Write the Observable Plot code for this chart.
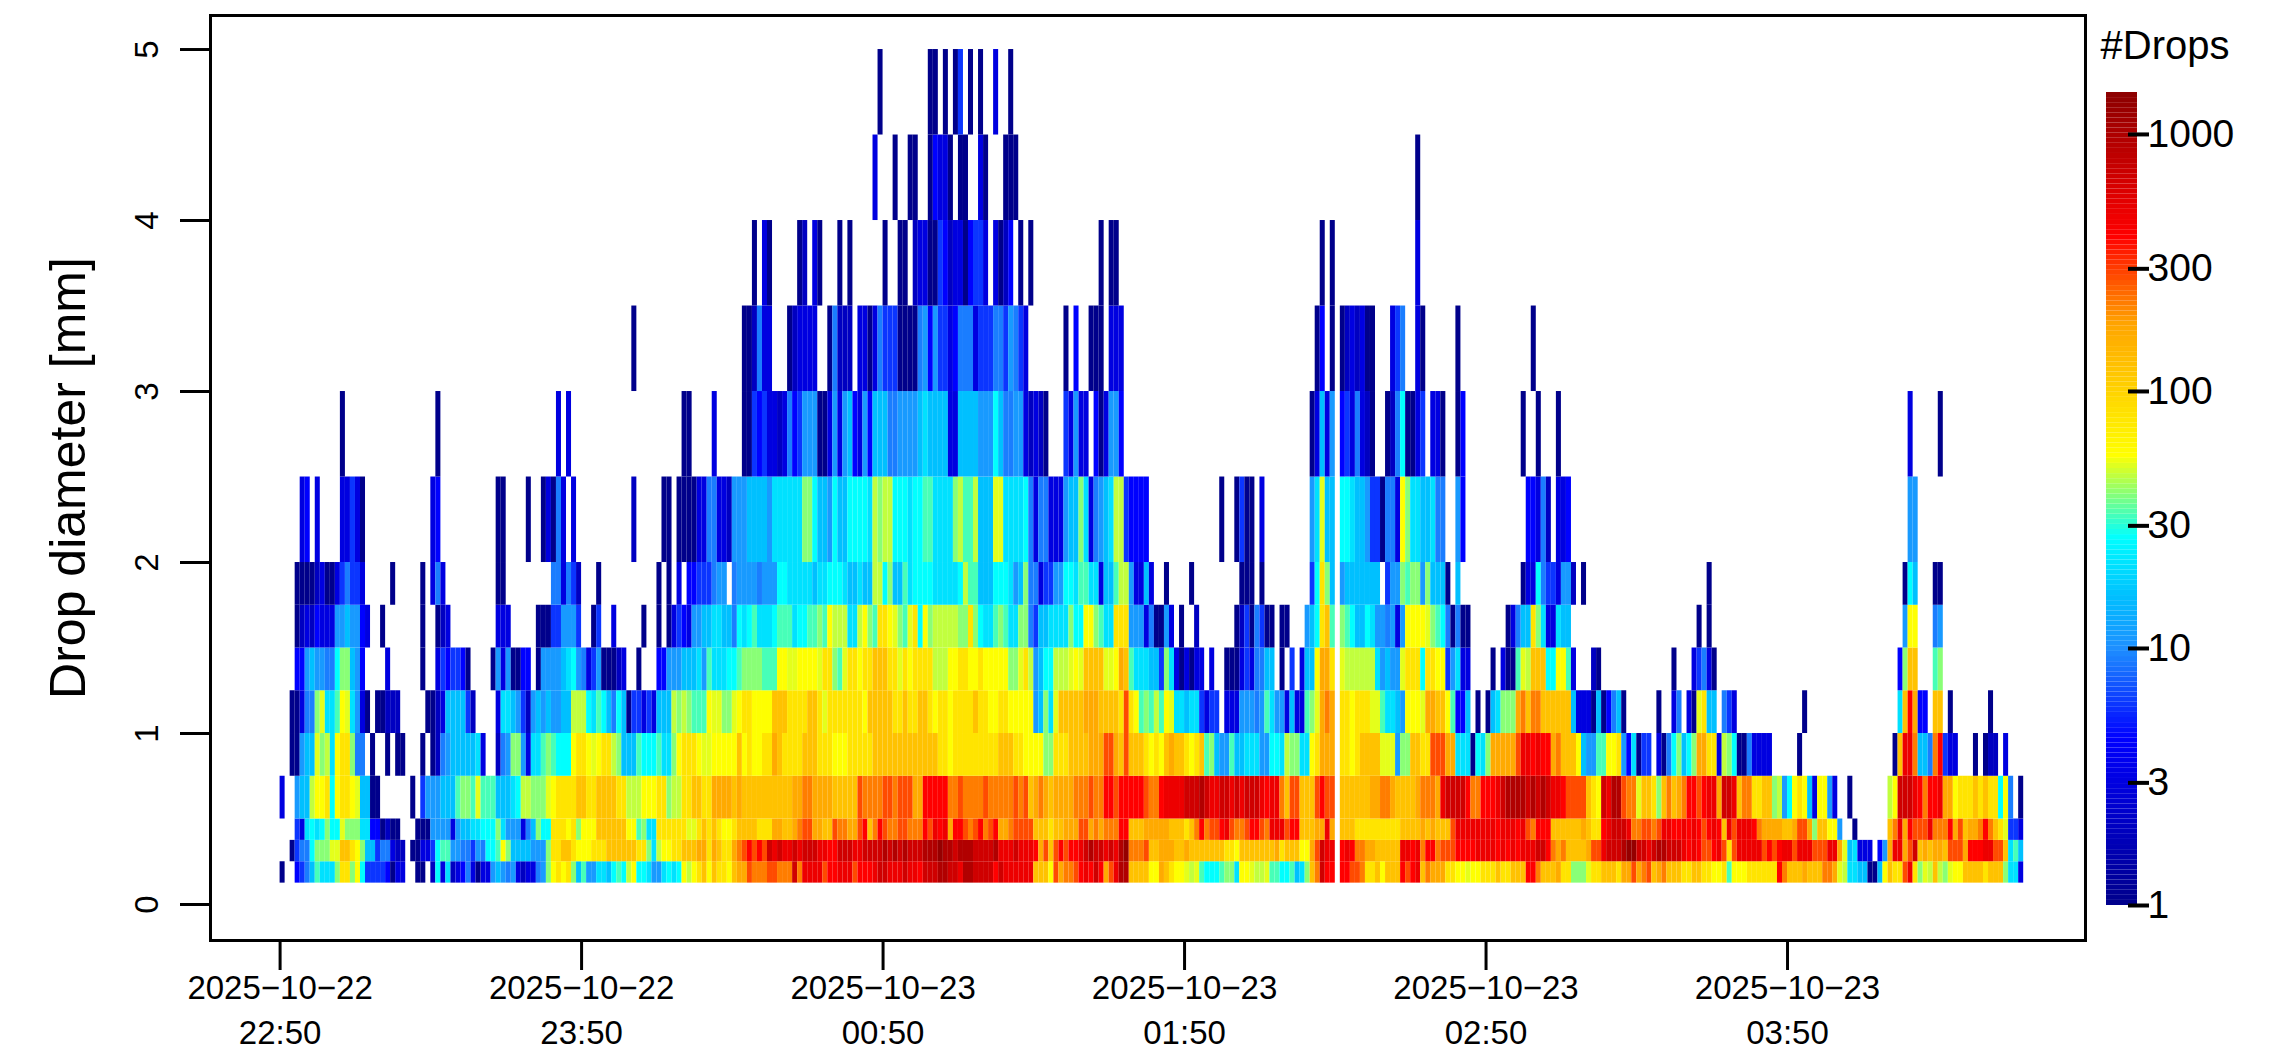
<!DOCTYPE html>
<html><head><meta charset="utf-8">
<script src="https://cdn.jsdelivr.net/npm/d3@7"></script>
<script src="https://cdn.jsdelivr.net/npm/@observablehq/plot@0.6"></script>
<style>html,body{margin:0;padding:0;background:#fff}#c{position:relative;width:2279px;height:1050px}#c svg{position:absolute;top:0;background:transparent}</style>
</head><body><div id="c"></div>
<script>
// Drop-diameter bin edges [mm]
const binEdges = [0.125,0.25,0.375,0.5,0.75,1,1.25,1.5,1.75,2,2.5,3,3.5,4,4.5,5];
// Letter code -> drop count, read from the colour of each cell ('.' = no drops)
const codes = "abcdefghijklmnopqrstuvwxy";
const counts = [1,2,3,4.5,6,9,11,16,21,27,33,40,47,52,56,80,125,170,220,280,400,490,680,950,1300];
const startTime = "2025-10-22T22:50:00Z";
// One string per diameter bin, one letter per minute (groups of ten minutes)
const bin00 = "a..defhkii ilpplojeee edacc..aa. bjcibcdfca ccghgfgcbc cfglopoplh kggiihjkjm ojjiggijij omopqo qppoqrrtss sttssswsvv vvtuuvvvtu uuvwwvvvwv vuwwwxxwwv xxwwwwuwvv vvvvqqqotr sstuvuwurt vxxqqqqoor qpoonmnkjj jkllioonmm nkkjjkhilq swuu.uutts ppqoqqqutu vqsrrrppoo noopppqppq qquusqqqrp plllnppqq qprrtrstqr sqqqppqqpp oopkoooppp pppusqqqrq qqssrnmiih haahoqpptv plnmqmlnoo qqqqpqqqli ic";
const bin01 = "..aeffjlll nnqqpolhhe ffcbb.aacc ejkkggffeg fjjkolhhhh ggglppqqpo oopppqqqqq qpplimoopp qqqrrp rqpprstutu twvwvvwvww wvvuuwwwvv wwwwxwxwxw wwxxxyxxwx xxwwwwxvvv wvvvurtqtu tuuvwxwwvw vxyssstqqr rrqqrqqqqq qqppoqqqqq qqrpqqqoor twvv.uvuss rrqqqqqvvu vsuustttuu uuvvvvuvuv uvvvwwusrs qqqqrttvw wwxyywwvwx xwwwvuvutt uvtptvvvvv tutuvvtvvv tttvvrnhic cc.dgrvvrt wqrqrrqttt ruuuvvttqi kh";
const bin02 = "...ecijijl jjnllliidd abaa...aaa ggggcghhii jjjligggcf hljjpppopl oooqqqqqqo okliippppp pnnpqp qpoopqqqqp pprrqqrstt rrqqtssrrt uqsutsstts ssutvuvruu tstusturrs ttttqqqpqq rrrttrsrss suuqqqrrrr rqqqpqsust tuvtsstuut svvvtuuqqq rrvr.qqqpp pppppppqqq qrqrqqqtvv vvvvvvuvvv uvtsuuuqqq qqqrqppuv wwwvssttst vvuuvuvutu vuqvtvvvus rrrrqqrttr lqqoog..a. .....qsvru tttvsssurt qrrsusqpne ec";
const bin03 = "c..ghhmoop jopponhhaa ......a.eg gghhhkllkn kkkhhhijmm lllnoppppq qppqqqqppm mmooopplmm ppqqpp rrrrqrqqqq qqqqqqrrss rrrrqqqqqt ssssttsttt rruuuuusst sssstsssss tstqrsrqrr rrssstssuu tuuuuutssu vvvvwwwxwv vwwvwvwwwv uvvsqttqqq tutt.qqqqq qrrssrqqqq rsssrvwwww ussuuuvwxx xxwxwxwvvu ttttqpowv xxtssnqqpl qsqrsuutuv vrwwvqsspp qqlmgjopoh coogc..a.. .....mowww vusuuvrrop ppqpqppjof .a";
const bin04 = "..aaghhnlm iopplff.a. .a.aa...a. abfghhhhhi c..bfgllgc iiklkjjjop ponoppmlhh hkjjjkiilo ppponn oooooqopoo pprqppppqq qpppoooppp ppqqqqqqqq qqqqqppopp pppppppqqq ppoooollpp pqqqqrrrtt rqtqqqpopo qrqqpopqkl hggkhhiiig gjjimlliio prrr.ppopq qqqnnngllq qpptttrrii iajilrrrrr tvvuvuursq qqohggkko opgdiaee.c afjlhjlrrp pcmljaafcc cc.....a.. .......... ......aqvv shhfsuecc. ..a.abb.c. ..";
const bin05 = "..aacfflni ikonigca.a abbb.....a abchhhheb. ...ciihgeb ghghgghhmm mjikjhfjha eecechhhml mlkkko nnllnoppoo ooqqqppppq qpnppppppp oqqqqqppqp pqqpoppopp ppqppooppo ooooghlinq qqqqrrrqqq qptpoklkmk oniihiiece e.cccgggfg kiggchcckl nrsr.ppopp pnnkiihgoo onrrqqokdd h.a.ahilll rsqssqqqqq qhcccahad fha......a ..cf.canph h.fec..... ........a. .......... .......iqu rdd.qq.a.. .....a.... ..";
const bin06 = "...ddghggf fjllhgd... .c......a. .cedeeda.. ..agcgaadd .agggghijg fcegaaabc. .a...ddggg hhhigk iiijjkllll kkkoonnooo onpplknppo ppqqqppnpo ppppmmmoop poopoooool lnpmghjjmm mnonqqqqnn orqkiiihhe licacacc.c ..aaacecff hh.a.e.chh orrp.nmmmm mmighggnpp pjppooegic c....a.caa knmqqqjjoo kc...ba.. .......... ..a...cefc a......... .......... .......... .......dlq q...kl.... .......... ..";
const bin07 = "...abcbdcc cgghggdc.. a.......a. .abc...... ...ccc.... .aaaeeggge ..ae..c... ..a..a.ace dcgghh iihhfjijki iijkkkijjk klkommmiim olkpponlkn pjolmmmmml lpljiiklki illfehhiii iljjoolkii pppgggcfaa gc.a..b... ....abeafe aa.aa...gh jpqk.lkjhh jiggfgcgoo oonlkjfafa a.......ac fhhpliccih h........ .......... .......a.a .......... .......... .......... ........go o...fg.... .......... ..";
const bin08 = "...aaaabca acefeec... ..a.....a. cfc....... ...aa..... ....ffcfeb ...a...... .....a.a.c .ddeee fgg.fggggf gggjjiiiii hiijjjihhi hhmmjlhhki jjjjiiiiij mkkhhhjjji ghlffceegg jjikkiichh kmmgcchc.. a....a.... .....aaa.a .........e jplh.ghhhh hhh.egglkl lglhhha.h. .......... .accjfeecg gb.a..... .......... .........a .......... .......... .......... ........aj h...aa.... .......... ..";
const bin09 = "....cd.c.. ..cceca... .......... cd........ ...aa....a ..acafc.c. .......... b.....aa.a aaaccf fccbggghhh hgiiiiiill jhhgjhhjjj jimlmmjjji jjkkiiiilm kkmhhhnnii iijfcffccc ghhlicfghi mmedddd... .......... .a..aeaa.c .........g inhh.jjihh geeaffcoli ihhiff..gd .......... ..ddcfb.cc d........ .......... .......... .......... .......... .......... .........g g......... .......... ..";
const bin10 = ".......... ..a....... .......... .a........ .......... .....c.c.. .......... .......... aa.... c.....aaed eccbcfdegg gaacgcghdc gdhhhffggg ghihhhhcch hhhgggjhff ggcbcba... ecgcc.dacg gd........ .......... .......... .........a chcg.decfc ba..abfjaa ce.cca..ad .......... .a..a...a. ......... .......... .......... .......... .......... .......... .........c .....a.... .......... ..";
const bin11 = ".......... .......... .......... .......... .......... .......... .......... a......... ...... ......aabf cc...abccc c..afbbb.c cacfeeeaaa afgdgeecdf ffceeeffeg fec....... a.d..aaa.c cc........ .......... .......... .......... ad.a.abcbc aa...cef.. ca......a. .......... ...a...... .........";
const bin12 = ".......... .......... .......... .......... .......... .......... .......... .......... ...... ........a. ca.....ab. ca...a.a.. ....a..aa. bccaaedbcc adeec.cabd .a.a...... .......a.a a......... .......... .......... .......... .a.a...... .......... c.........";
const bin13 = ".......... .......... .......... .......... .......... .......... .......... .......... ...... .......... .......... .......... ..c...a..a a..adcca.a a..ca...aa a......... .......... .......... .......... .......... .......... .......... .......... a.........";
const bin14 = ".......... .......... .......... .......... .......... .......... .......... .......... ...... .......... .......... .......... ...a...... ...aa.a.ae .a.a..c..a";
const bins = [bin00,bin01,bin02,bin03,bin04,bin05,bin06,bin07,bin08,bin09,bin10,bin11,bin12,bin13,bin14];

// Axis labels
const tickTimes = ["2025-10-22T22:50:00Z","2025-10-22T23:50:00Z","2025-10-23T00:50:00Z","2025-10-23T01:50:00Z","2025-10-23T02:50:00Z","2025-10-23T03:50:00Z"];
const tickDays = ["2025\u221210\u221222","2025\u221210\u221222","2025\u221210\u221223","2025\u221210\u221223","2025\u221210\u221223","2025\u221210\u221223"];
const tickHours = ["22:50","23:50","00:50","01:50","02:50","03:50"];
const yTicks = [0,1,2,3,4,5];
const legendTicks = [1,3,10,30,100,300,1000];
const legendMax = 1456;
const colorDomain = [1,4.47,10,15.85,26.9,56.2,182,400,legendMax];
const colorRange = ["#00008b","#0000ff","#1e90ff","#00bfff","#00ffff","#ffff00","#ffa500","#ff0000","#8b0000"];

const t0 = new Date(startTime).getTime(), MIN = 60000;
const cells = [];
bins.forEach((s, r) => {
  const chars = s.replace(/ /g,"");
  [...chars].forEach((ch, i) => {
    const k = codes.indexOf(ch);
    if (k >= 0) cells.push({t1:new Date(t0+i*MIN), t2:new Date(t0+(i+1)*MIN), y1:binEdges[r], y2:binEdges[r+1], n:counts[k]});
  });
});
const color = {type:"log", domain:colorDomain, range:colorRange, interpolate:"rgb"};
const font = {fontFamily:"'Liberation Sans',Arial,sans-serif"};
const dates = tickTimes.map(d => new Date(d));
const dayOf = new Map(dates.map((d,i) => [+d, tickDays[i]]));
const hourOf = new Map(dates.map((d,i) => [+d, tickHours[i]]));

const main = Plot.plot({
  width:2279, height:1050, marginLeft:210, marginRight:194, marginTop:15, marginBottom:110,
  style:{...font, background:"transparent"}, color,
  x:{type:"utc", domain:[new Date(t0-13.85*MIN), new Date(t0+359.3*MIN)], label:null},
  y:{domain:[-0.2105,5.199], label:null},
  marks:[
    Plot.rect(cells,{x1:"t1",x2:"t2",y1:"y1",y2:"y2",fill:"n"}),
    Plot.frame({stroke:"#000",strokeWidth:3}),
    Plot.axisX(dates,{tickSize:30,tickPadding:5,strokeWidth:3,fontSize:33,tickFormat:d=>dayOf.get(+d),label:null}),
    Plot.axisX(dates,{tickSize:0,tickPadding:80,fontSize:33,tickFormat:d=>hourOf.get(+d),label:null}),
    Plot.axisY(yTicks,{tickSize:30,tickPadding:23,strokeWidth:3,fontSize:33,tickRotate:-90,tickFormat:String,label:null}),
    Plot.text(["Drop diameter [mm]"],{frameAnchor:"left",dx:-142,rotate:-90,fontSize:50,textAnchor:"middle",text:d=>d})
  ]
});
main.style.left="0px";

const ramp = d3.range(0,160).map(i => {
  const lo=Math.pow(legendMax,i/160), hi=Math.pow(legendMax,(i+1)/160);
  return {lo,hi,v:Math.sqrt(lo*hi)};
});
const legend = Plot.plot({
  width:179, height:1050, marginLeft:6, marginRight:152, marginTop:92, marginBottom:145,
  style:{...font, background:"transparent"}, color,
  x:{domain:[0,1],range:[6,37],axis:null},
  y:{type:"log",domain:[1,legendMax],range:[905,92],axis:null},
  marks:[
    Plot.rect(ramp,{x1:0,x2:1,y1:"lo",y2:"hi",fill:"v"}),
    Plot.axisY(legendTicks,{anchor:"right",tickSize:21,tickPadding:-1,strokeWidth:4,fontSize:39,tickFormat:String,label:null}),
    Plot.text(["#Drops"],{frameAnchor:"top-left",dx:-6,dy:-62,fontSize:40,textAnchor:"start",lineAnchor:"top",text:d=>d})
  ]
});
legend.style.left="2100px";
document.getElementById("c").append(main,legend);
</script></body></html>
